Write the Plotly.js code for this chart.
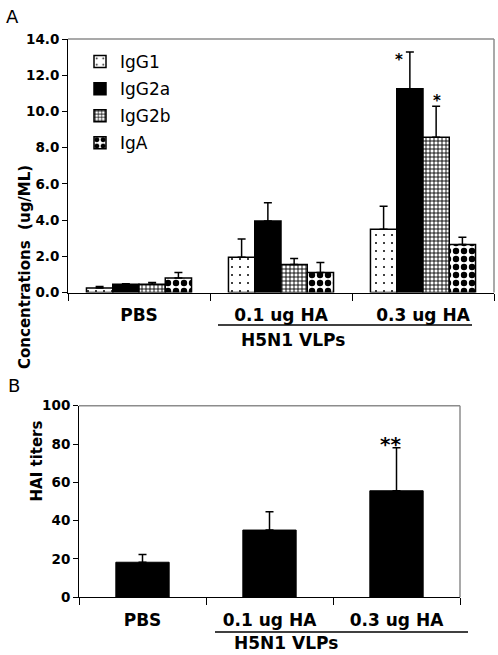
<!DOCTYPE html>
<html><head><meta charset="utf-8">
<script src="https://cdn.plot.ly/plotly-3.0.1.min.js"></script>
<style>html,body{margin:0;padding:0;background:#fff}#chart{width:498px;height:655px}</style>
</head><body><div id="chart"></div>
<script>
const categories = ['PBS', '0.1 ug HA', '0.3 ug HA'];
const seriesNames = ['IgG1', 'IgG2a', 'IgG2b', 'IgA'];
const igg1 = [0.25, 1.95, 3.5];
const igg1Err = [0.08, 1.0, 1.27];
const igg2a = [0.45, 3.95, 11.25];
const igg2aErr = [0.03, 1.0, 2.03];
const igg2b = [0.45, 1.55, 8.58];
const igg2bErr = [0.1, 0.33, 1.7];
const iga = [0.8, 1.1, 2.65];
const igaErr = [0.3, 0.55, 0.4];
const hai = [18.3, 35.1, 55.6];
const haiErr = [4.1, 9.6, 22.5];
const yTicksA = [0, 2, 4, 6, 8, 10, 12, 14];
const yTicksB = [0, 20, 40, 60, 80, 100];

const FONT = 'DejaVu Sans, Liberation Sans, Arial, sans-serif';
const patterns = [
  {shape: '.', size: 8, solidity: 0.05, fgcolor: '#000', bgcolor: '#fff', fillmode: 'replace'},
  null,
  {shape: '+', size: 4, solidity: 0.4, fgcolor: '#000', bgcolor: '#fff', fillmode: 'replace'},
  {shape: '.', size: 8, solidity: 0.5, fgcolor: '#000', bgcolor: '#fff', fillmode: 'replace'}
];
const vals = [igg1, igg2a, igg2b, iga];
const errs = [igg1Err, igg2aErr, igg2bErr, igaErr];

const traces = seriesNames.map((n, i) => {
  const marker = {color: i === 1 ? '#000' : '#fff', line: {color: '#000', width: 1.5}};
  if (patterns[i]) marker.pattern = patterns[i];
  return {
    type: 'bar', name: n, x: categories, y: vals[i], xaxis: 'x', yaxis: 'y',
    legendgroup: n, marker: marker,
    error_y: {type: 'data', array: errs[i], arrayminus: errs[i].map(() => 0), symmetric: false,
      color: '#000', thickness: 1.5, width: 4},
    hoverinfo: 'x+y+name'
  };
});
traces.push({
  type: 'bar', name: 'HAI', x: categories, y: hai, xaxis: 'x2', yaxis: 'y2', showlegend: false,
  width: 0.42, marker: {color: '#000', line: {color: '#000', width: 1}},
  error_y: {type: 'data', array: haiErr, arrayminus: haiErr.map(() => 0), symmetric: false,
    color: '#000', thickness: 1.5, width: 4}
});

const W = 498, H = 655;
const px = v => v / W, py = v => 1 - v / H;
// panel geometry (pixels)
const A = {l: 68, r: 494, t: 39, b: 292.5};
const B = {l: 79, r: 460, t: 405.7, b: 597.3};

const bold = (s) => ({family: FONT, size: s, color: '#000', weight: 'bold'});
const xaxisCommon = {
  type: 'category', tickson: 'boundaries', ticks: 'outside', ticklen: 7, tickcolor: '#000', tickwidth: 1,
  showline: true, linecolor: '#000', linewidth: 1, showgrid: false, zeroline: false,
  tickfont: bold(17), ticklabelstandoff: 7, fixedrange: true
};
const yaxisCommon = {
  ticks: 'outside', ticklen: 5, tickcolor: '#000', tickwidth: 1, showline: true, linecolor: '#000',
  linewidth: 1, showgrid: false, zeroline: false, tickfont: bold(13.5), fixedrange: true
};

const layout = {
  width: W, height: H, margin: {l: 0, r: 0, t: 0, b: 0},
  paper_bgcolor: '#fff', plot_bgcolor: '#fff',
  barmode: 'group', bargap: 0.26, bargroupgap: 0,
  xaxis: Object.assign({}, xaxisCommon, {domain: [px(A.l), px(A.r)], anchor: 'y'}),
  yaxis: Object.assign({}, yaxisCommon, {domain: [py(A.b), py(A.t)], anchor: 'x', range: [0, 14],
    tickvals: yTicksA, ticktext: yTicksA.map(v => v.toFixed(1))}),
  xaxis2: Object.assign({}, xaxisCommon, {domain: [px(B.l), px(B.r)], anchor: 'y2'}),
  yaxis2: Object.assign({}, yaxisCommon, {domain: [py(B.b), py(B.t)], anchor: 'x2', range: [0, 100],
    tickvals: yTicksB, ticktext: yTicksB.map(String)}),
  showlegend: true,
  legend: {x: px(80), y: py(44), xanchor: 'left', yanchor: 'top', bgcolor: 'rgba(0,0,0,0)',
    font: {family: FONT, size: 17, color: '#000'}, traceorder: 'grouped', tracegroupgap: 2,
    itemclick: false, itemdoubleclick: false},
  shapes: [
    {type: 'line', xref: 'paper', yref: 'paper', x0: px(A.l), x1: px(A.r), y0: py(A.t), y1: py(A.t), line: {color: '#8c8c8c', width: 1.5}},
    {type: 'line', xref: 'paper', yref: 'paper', x0: px(A.r), x1: px(A.r), y0: py(A.t), y1: py(A.b), line: {color: '#8c8c8c', width: 1.5}},
    {type: 'line', xref: 'paper', yref: 'paper', x0: px(B.l), x1: px(B.r), y0: py(B.t), y1: py(B.t), line: {color: '#8c8c8c', width: 1.5}},
    {type: 'line', xref: 'paper', yref: 'paper', x0: px(B.r), x1: px(B.r), y0: py(B.t), y1: py(B.b), line: {color: '#8c8c8c', width: 1.5}},
    {type: 'line', xref: 'paper', yref: 'paper', x0: px(218), x1: px(472), y0: py(325), y1: py(325), line: {color: '#000', width: 1.5}},
    {type: 'line', xref: 'paper', yref: 'paper', x0: px(215), x1: px(468), y0: py(632), y1: py(632), line: {color: '#000', width: 1.5}}
  ],
  annotations: [
    {text: 'A', xref: 'paper', yref: 'paper', x: px(4), y: py(4), xanchor: 'left', yanchor: 'top', showarrow: false,
      font: {family: FONT, size: 18, color: '#000'}},
    {text: 'B', xref: 'paper', yref: 'paper', x: px(6), y: py(373), xanchor: 'left', yanchor: 'top', showarrow: false,
      font: {family: FONT, size: 18, color: '#000'}},
    {text: 'Concentrations  (ug/ML)', xref: 'paper', yref: 'paper', x: px(14), y: py(163), textangle: -90,
      showarrow: false, font: bold(15)},
    {text: 'HAI titers', xref: 'paper', yref: 'paper', x: px(25), y: py(504), textangle: -90,
      showarrow: false, font: bold(15)},
    {text: 'H5N1 VLPs', xref: 'paper', yref: 'paper', x: px(347), y: py(340), showarrow: false, font: bold(17)},
    {text: 'H5N1 VLPs', xref: 'paper', yref: 'paper', x: px(340), y: 0, yanchor: 'bottom', showarrow: false, font: bold(17)},
    {text: '*', xref: 'x', yref: 'y', x: categories[2], y: igg2a[2] + igg2aErr[2], xshift: -24, yshift: -8,
      showarrow: false, font: bold(15)},
    {text: '*', xref: 'x', yref: 'y', x: categories[2], y: igg2b[2] + igg2bErr[2], xshift: 14, yshift: 5,
      showarrow: false, font: bold(15)},
    {text: '**', xref: 'x2', yref: 'y2', x: categories[2], y: hai[2] + haiErr[2], xshift: -6, yshift: 4,
      showarrow: false, font: bold(20)}
  ]
};

Plotly.newPlot('chart', traces, layout, {displayModeBar: false});
</script>
</body></html>
